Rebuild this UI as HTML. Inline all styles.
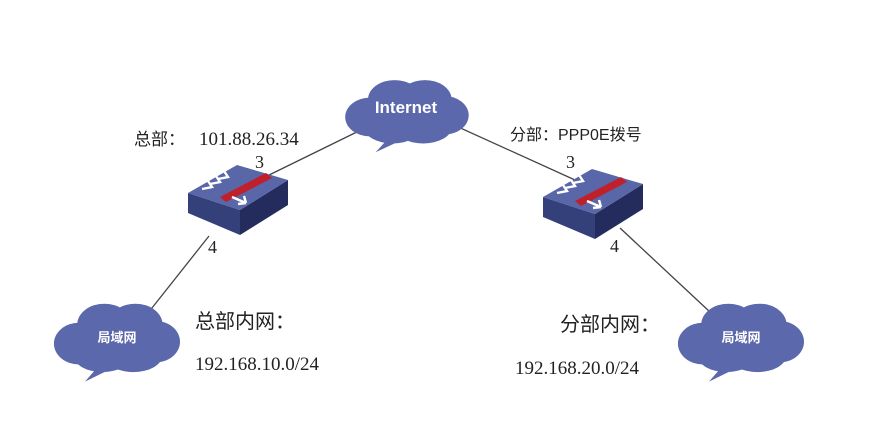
<!DOCTYPE html>
<html><head><meta charset="utf-8"><style>
body{margin:0;background:#fff;width:885px;height:438px;overflow:hidden}
svg{display:block}
.cj{font-family:"Liberation Sans","Noto Sans CJK SC",sans-serif}
.sr{font-family:"Liberation Serif","Noto Serif CJK SC",serif}
</style></head><body>
<svg width="885" height="438" viewBox="0 0 885 438">
<defs>
<g id="cloud">
<path d="M-20,34 L-32,48 L-8,36 Z" fill="#5b68ab"/>
<ellipse cx="-38" cy="8" rx="26" ry="22" fill="#5b68ab"/>
<ellipse cx="-12" cy="-12" rx="28" ry="22" fill="#5b68ab"/>
<ellipse cx="20" cy="-12" rx="28" ry="22" fill="#5b68ab"/>
<ellipse cx="40" cy="6" rx="26" ry="22" fill="#5b68ab"/>
<ellipse cx="18" cy="20" rx="30" ry="18" fill="#5b68ab"/>
<ellipse cx="-14" cy="20" rx="30" ry="18" fill="#5b68ab"/>
<ellipse cx="0" cy="4" rx="50" ry="24" fill="#5b68ab"/>
</g>
<g id="sw">
<polygon points="0,0 0,20 52,42 52,17" fill="#34407a"/>
<polygon points="52,17 52,42 100,12 100,-13" fill="#232c5c"/>
<polygon points="0,0 49,-28 100,-13 52,17" fill="#5966a8"/>
<polygon points="32,4 78,-20 84,-15 38,9" fill="#c0202a"/>
<path d="M14,-4 l10,-2 l-4,-6 M22,-9 l10,-2 l-4,-6 M30,-14 l10,-2 l-4,-6 M44,4 l14,6 M58,10 l-2,-7 M58,10 l-8,1" stroke="#fff" stroke-width="2.4" fill="none"/>
</g>
</defs>
<g stroke="#444" stroke-width="1.3">
<line x1="263" y1="178" x2="365" y2="128"/>
<line x1="456" y1="126" x2="575" y2="180"/>
<line x1="209" y1="236" x2="148" y2="313"/>
<line x1="620" y1="228" x2="710" y2="312"/>
</g>
<use href="#cloud" transform="translate(406,110) scale(0.95,0.88)"/>
<use href="#cloud" transform="translate(116,336) scale(0.97,0.95)"/>
<use href="#cloud" transform="translate(740,336) scale(0.97,0.95)"/>
<use href="#sw" transform="translate(188,193)"/>
<use href="#sw" transform="translate(543,197)"/>
<text x="406" y="113" fill="#fff" font-weight="bold" font-size="17" text-anchor="middle" class="cj">Internet</text>
<text x="117" y="342" fill="#fff" font-weight="bold" font-size="13" text-anchor="middle" class="cj">局域网</text>
<text x="741" y="342" fill="#fff" font-weight="bold" font-size="13" text-anchor="middle" class="cj">局域网</text>
<text x="134" y="145" font-size="17" class="cj" fill="#222">总部：</text>
<text x="199" y="145" font-size="19" class="sr" fill="#222">101.88.26.34</text>
<text x="255" y="168" font-size="18" class="sr" fill="#222">3</text>
<text x="208" y="253" font-size="18" class="sr" fill="#222">4</text>
<text x="510" y="140" font-size="16" class="cj" fill="#222">分部：PPP0E拨号</text>
<text x="566" y="168" font-size="18" class="sr" fill="#222">3</text>
<text x="610" y="252" font-size="18" class="sr" fill="#222">4</text>
<text x="195" y="328" font-size="20" class="cj" fill="#222">总部内网：</text>
<text x="195" y="370" font-size="19" class="sr" fill="#222">192.168.10.0/24</text>
<text x="560" y="331" font-size="20" class="cj" fill="#222">分部内网：</text>
<text x="515" y="374" font-size="19" class="sr" fill="#222">192.168.20.0/24</text>
</svg>
</body></html>
